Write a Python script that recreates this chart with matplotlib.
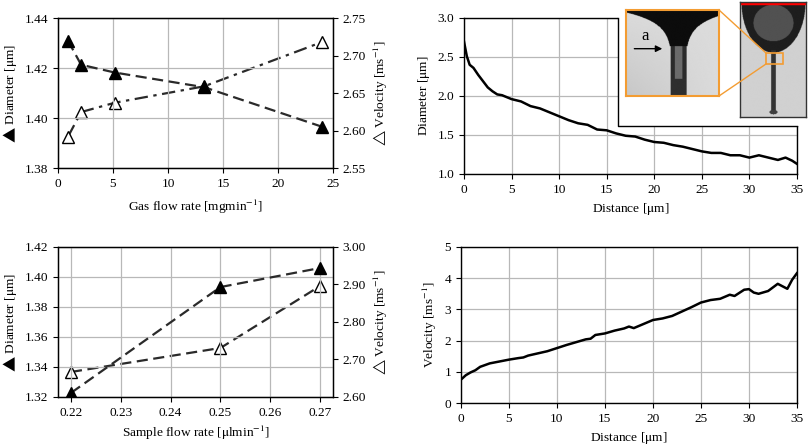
import numpy as np
import matplotlib
matplotlib.use("Agg")
import matplotlib.pyplot as plt
from matplotlib.patches import Rectangle
from matplotlib.lines import Line2D

plt.rcParams['font.family'] = ['Liberation Serif', 'DejaVu Sans']
plt.rcParams['mathtext.fontset'] = 'stix'
plt.rcParams['font.size'] = 9.6

# ---- data: gas flow rate sweep ----
gas_flow = [0.9, 2.1, 5.15, 13.3, 24.0]
gas_diam = [1.431, 1.4213, 1.4182, 1.4123, 1.3965]
gas_vel = [2.5915, 2.6246, 2.637, 2.659, 2.718]

# ---- data: sample flow rate sweep ----
sample_flow = [0.22, 0.25, 0.27]
sample_diam = [1.3227, 1.3933, 1.406]
sample_vel = [2.6667, 2.7307, 2.896]

# ---- data: diameter along jet ----
dist_d = [0, 0.3, 0.6, 1, 1.5, 2, 2.5, 3, 3.5, 4, 5, 6, 7, 8, 9, 10, 11, 12, 13,
          14, 15, 16, 17, 18, 19, 20, 21, 22, 23, 24, 25, 26, 27, 28, 29, 30,
          31, 32, 33, 33.8, 34.5, 35]
diam = [2.70, 2.51, 2.40, 2.36, 2.27, 2.19, 2.11, 2.06, 2.02, 2.01, 1.96, 1.93,
        1.87, 1.84, 1.79, 1.74, 1.69, 1.65, 1.63, 1.57, 1.56, 1.52, 1.49, 1.48,
        1.44, 1.41, 1.40, 1.37, 1.35, 1.32, 1.29, 1.27, 1.27, 1.24, 1.24, 1.21,
        1.24, 1.21, 1.18, 1.21, 1.17, 1.13]

# ---- data: velocity along jet ----
dist_v = [0, 0.5, 1, 1.5, 2, 3, 4, 5, 6, 6.5, 7, 8, 9, 10, 11, 12, 13, 13.5, 14,
          15, 16, 17, 17.5, 18, 19, 20, 21, 22, 23, 24, 25, 26, 27, 28, 28.5,
          29.5, 30, 30.5, 31, 32, 33, 34, 34.5, 35]
vel = [0.75, 0.89, 0.98, 1.05, 1.16, 1.27, 1.33, 1.39, 1.44, 1.46, 1.52, 1.59,
       1.66, 1.76, 1.86, 1.95, 2.04, 2.06, 2.18, 2.23, 2.32, 2.39, 2.45, 2.40,
       2.53, 2.66, 2.71, 2.79, 2.93, 3.07, 3.22, 3.30, 3.34, 3.47, 3.43, 3.63,
       3.65, 3.54, 3.50, 3.59, 3.82, 3.66, 3.95, 4.16]

line_c = '#2a2a2a'
grid_c = '#b8b8b8'
diam_lab = '$\u25b2$ Diameter [$\\mathrm{\\mu}$m]'
vel_lab = '$\u25b3$ Velocity [ms$^{-1}$]'


def style(ax):
    ax.grid(True, color=grid_c, linewidth=0.9)
    ax.set_axisbelow(True)
    ax.tick_params(direction='out', length=3.5, width=0.8)
    for s in ax.spines.values():
        s.set_linewidth(1.0)


fig = plt.figure(figsize=(8.09, 4.46), dpi=100)

# ---- top left ----
ax1 = fig.add_axes([0.0717, 0.6233, 0.340, 0.3363])
style(ax1)
ax1.plot(gas_flow, gas_diam, '--', color=line_c, lw=1.6, dashes=(5, 2.5),
         marker='^', ms=9, mfc='black', mec='black', zorder=4)
ax1.set_xlim(0, 25)
ax1.set_ylim(1.38, 1.44)
ax1.set_yticks([1.38, 1.40, 1.42, 1.44])
ax1.set_yticklabels(['1.38', '1.40', '1.42', '1.44'])
ax1.set_xticks([0, 5, 10, 15, 20, 25])
ax1.set_xlabel('Gas flow rate [mgmin$^{-1}$]', labelpad=6)
ax1.set_ylabel(diam_lab)
ax1b = ax1.twinx()
ax1b.plot(gas_flow, gas_vel, '-.', color=line_c, lw=1.6, dashes=(6, 2.5, 1.5, 2.5),
          marker='^', ms=9, mfc='white', mec='black', zorder=3)
ax1b.set_ylim(2.55, 2.75)
ax1b.set_yticks([2.55, 2.60, 2.65, 2.70, 2.75])
ax1b.set_yticklabels(['2.55', '2.60', '2.65', '2.70', '2.75'])
ax1b.tick_params(direction='out', length=3.5, width=0.8)
ax1b.set_ylabel(vel_lab)
ax1.set_zorder(ax1b.get_zorder() + 1)
ax1.patch.set_visible(False)

# ---- bottom left ----
ax2 = fig.add_axes([0.0717, 0.1099, 0.340, 0.3363])
style(ax2)
ax2.plot(sample_flow, sample_diam, '--', color=line_c, lw=1.6, dashes=(5, 2.5),
         marker='^', ms=9, mfc='black', mec='black', zorder=4)
ax2.set_xlim(0.2174, 0.2726)
ax2.set_ylim(1.32, 1.42)
ax2.set_yticks([1.32, 1.34, 1.36, 1.38, 1.40, 1.42])
ax2.set_yticklabels(['1.32', '1.34', '1.36', '1.38', '1.40', '1.42'])
ax2.set_xticks([0.22, 0.23, 0.24, 0.25, 0.26, 0.27])
ax2.set_xticklabels(['0.22', '0.23', '0.24', '0.25', '0.26', '0.27'])
ax2.set_xlabel(r'Sample flow rate [$\mathrm{\mu}$lmin$^{-1}$]')
ax2.set_ylabel(diam_lab)
ax2b = ax2.twinx()
ax2b.plot(sample_flow, sample_vel, '--', color=line_c, lw=1.6, dashes=(5, 2.5),
          marker='^', ms=9, mfc='white', mec='black', zorder=3)
ax2b.set_ylim(2.60, 3.00)
ax2b.set_yticks([2.60, 2.70, 2.80, 2.90, 3.00])
ax2b.set_yticklabels(['2.60', '2.70', '2.80', '2.90', '3.00'])
ax2b.tick_params(direction='out', length=3.5, width=0.8)
ax2b.set_ylabel(vel_lab)
ax2.set_zorder(ax2b.get_zorder() + 1)
ax2.patch.set_visible(False)

# ---- top right ----
ax3 = fig.add_axes([0.5735, 0.6099, 0.4116, 0.3498])
style(ax3)
ax3.plot(dist_d, diam, color='black', lw=1.8)
ax3.set_xlim(0, 35)
ax3.set_ylim(1.0, 3.0)
ax3.set_xticks(range(0, 36, 5))
ax3.set_yticks([1.0, 1.5, 2.0, 2.5, 3.0])
ax3.set_yticklabels(['1.0', '1.5', '2.0', '2.5', '3.0'])
ax3.set_xlabel(r'Distance [$\mathrm{\mu}$m]')
ax3.set_ylabel(r'Diameter [$\mathrm{\mu}$m]')
# cut-out corner for the image insets
cx, cy = 16.2 / 35, 0.31
ax3.add_patch(Rectangle((cx, cy), 1.05 - cx, 1.05 - cy, transform=ax3.transAxes,
                        facecolor='white', edgecolor='none', zorder=5, clip_on=False))
ax3.add_line(Line2D([cx, cx, 1.0], [1.0, cy, cy], transform=ax3.transAxes,
                    color='black', lw=1.0, zorder=6, clip_on=False))

# ---- bottom right ----
ax4 = fig.add_axes([0.5698, 0.0964, 0.4153, 0.3498])
style(ax4)
ax4.plot(dist_v, vel, color='black', lw=1.8)
ax4.set_xlim(0, 35)
ax4.set_ylim(0, 5)
ax4.set_xticks(range(0, 36, 5))
ax4.set_yticks(range(0, 6))
ax4.set_xlabel(r'Distance [$\mathrm{\mu}$m]')
ax4.set_ylabel('Velocity [ms$^{-1}$]')

# ---- image insets (synthetic sketch of the jet photographs) ----
orange = '#f39c32'
n = 200
u, v = np.meshgrid(np.linspace(0, 1, n), np.linspace(0, 1, n))

# zoomed view of the neck
img1 = 0.86 - 0.08 * (1 - u) * v
hw = 0.07 + 0.6 * np.exp(-v / 0.13)
img1 = np.where((np.abs(u - 0.56) < hw) & (v < 0.42), 0.05, img1)
jet = (np.abs(u - 0.56) < 0.085) & (v >= 0.42)
img1 = np.where(jet, 0.42 - 0.25 * (np.abs(u - 0.56) > 0.04), img1)
img1 = np.where(jet & (v > 0.8), 0.18, img1)
ins1 = fig.add_axes([0.7738, 0.7848, 0.115, 0.1928])
ins1.imshow(img1, cmap='gray', vmin=0, vmax=1, aspect='auto', extent=(0, 1, 1, 0))
ins1.set_xticks([])
ins1.set_yticks([])
for s in ins1.spines.values():
    s.set_color(orange)
    s.set_linewidth(1.5)
ins1.annotate('', xy=(0.42, 0.45), xytext=(0.06, 0.45),
              arrowprops=dict(arrowstyle='-|>', color='black', lw=1.0))
ins1.text(0.2, 0.4, 'a', fontsize=12, ha='center', va='bottom')

# full droplet view
img2 = np.full((n, n), 0.82)
drop_h = 0.44
prof = 0.48 * np.sqrt(np.clip(1 - (v / drop_h) ** 2, 0, 1))
img2 = np.where((np.abs(u - 0.5) < prof) & (v < drop_h), 0.12, img2)
img2 = np.where(((u - 0.5) / 0.3) ** 2 + ((v - 0.18) / 0.16) ** 2 < 1, 0.32, img2)
img2 = np.where((np.abs(u - 0.5) < 0.035) & (v >= drop_h - 0.02) & (v < 0.97), 0.2, img2)
img2 = np.where(((u - 0.5) / 0.06) ** 2 + ((v - 0.96) / 0.02) ** 2 < 1, 0.25, img2)
ins2 = fig.add_axes([0.9147, 0.7377, 0.0816, 0.2578])
ins2.imshow(img2, cmap='gray', vmin=0, vmax=1, aspect='auto', extent=(0, 1, 1, 0))
ins2.set_xticks([])
ins2.set_yticks([])
for s in ins2.spines.values():
    s.set_color('#333333')
    s.set_linewidth(1.0)
ins2.axhline(0.005, color='red', lw=2.5)
ins2.add_patch(Rectangle((0.39, 0.445), 0.26, 0.095, fill=False, edgecolor=orange, lw=1.2))

# connectors between the two insets (figure pixel coords -> fraction)
W, H = 809.0, 446.0
fig.add_artist(Line2D([719 / W, 766 / W], [1 - 10 / H, 1 - 53 / H], color=orange, lw=1.0))
fig.add_artist(Line2D([719 / W, 766 / W], [1 - 96 / H, 1 - 64 / H], color=orange, lw=1.0))

fig.savefig('out.png', dpi=100)
